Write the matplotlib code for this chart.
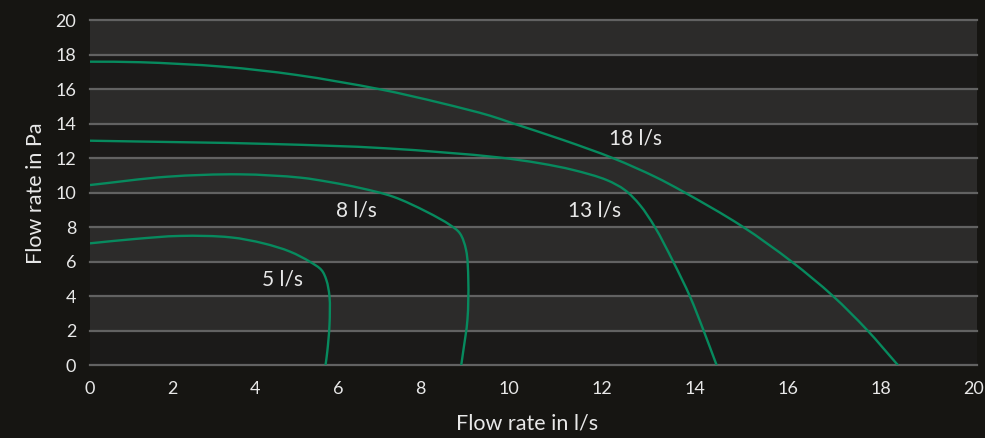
import matplotlib
matplotlib.use('Agg')
import numpy as np
import matplotlib.pyplot as plt
from matplotlib.path import Path
from matplotlib.patches import PathPatch
from matplotlib.transforms import ScaledTranslation

plt.rcParams['font.family'] = ['Lato', 'DejaVu Sans']

# ---------------- data ----------------
x_ticks = [0, 2, 4, 6, 8, 10, 12, 14, 16, 18, 20]
y_ticks = [0, 2, 4, 6, 8, 10, 12, 14, 16, 18, 20]

curve_names = ['5 l/s', '8 l/s', '13 l/s', '18 l/s']

c5_x = [0, 1.0, 2.03, 3.16, 3.91, 4.51, 4.96, 5.22, 5.33, 5.40, 5.40, 5.35, 5.31]
c5_y = [7.07, 7.32, 7.5, 7.42, 7.07, 6.59, 6.0, 5.52, 4.94, 3.98, 2.34, 0.79, 0]

c8_x = [0, 1.73, 3.38, 4.74, 5.41, 6.09, 6.84, 7.59, 8.12, 8.34, 8.48, 8.53, 8.51, 8.42, 8.37]
c8_y = [10.45, 10.93, 11.07, 10.88, 10.62, 10.28, 9.77, 8.9, 8.13, 7.65, 6.68, 4.94, 2.63, 0.89, 0]

c13_x = [0, 4.08, 6.67, 9.18, 10.15, 10.9, 11.65, 12.06, 12.4, 12.74, 13.15, 13.53, 13.83, 14.13]
c13_y = [13.02, 12.83, 12.58, 12.06, 11.71, 11.32, 10.74, 10.16, 9.29, 8.0, 6.01, 3.98, 2.05, 0]

c18_x = [0, 1.13, 3.0, 4.66, 6.54, 7.89, 9.02, 9.53, 10.67, 11.8, 12.74, 13.38, 14.69,
         15.82, 16.75, 17.52, 18.22]
c18_y = [17.6, 17.57, 17.31, 16.83, 16.0, 15.22, 14.47, 14.03, 13.06, 12.0, 10.93, 10.06, 8.08,
         6.01, 4.02, 2.05, 0]

label_x = [4.34, 6.0, 11.38, 12.31]
label_y = [4.99, 8.97, 8.96, 13.12]

x_title = 'Flow rate in l/s'
y_title = 'Flow rate in Pa'

# ---------------- style ----------------
BG = '#161512'
AX_BG = '#1b1a19'
BAND = '#2c2b2a'
GRID = '#626262'
GREEN = '#078a5e'
TXT = '#e8e8e8'


def smooth_path(xs, ys, sx=44.35, sy=17.25, alpha=0.5):
    """Smooth line through the read points: centripetal Catmull-Rom drawn as cubic Beziers."""
    pts = np.column_stack([xs, ys]).astype(float)
    n = len(pts)
    ext = np.vstack([2 * pts[0] - pts[1], pts, 2 * pts[-1] - pts[-2]])
    scale = np.array([sx, sy])

    def dt(a, b):
        return max(np.linalg.norm((b - a) * scale) ** alpha, 1e-6)

    verts = [pts[0]]
    codes = [Path.MOVETO]
    for i in range(n - 1):
        p0, p1, p2, p3 = ext[i], ext[i + 1], ext[i + 2], ext[i + 3]
        d0, d1, d2 = dt(p0, p1), dt(p1, p2), dt(p2, p3)
        m1 = d1 * ((p1 - p0) / d0 - (p2 - p0) / (d0 + d1) + (p2 - p1) / d1)
        m2 = d1 * ((p2 - p1) / d1 - (p3 - p1) / (d1 + d2) + (p3 - p2) / d2)
        verts += [p1 + m1 / 3.0, p2 - m2 / 3.0, p2]
        codes += [Path.CURVE4] * 3
    return Path(verts, codes)


fig = plt.figure(figsize=(9.85, 4.38), dpi=100, facecolor=BG)
ax = fig.add_axes([90 / 985, (438 - 365.3) / 438, 887 / 985, 345 / 438])
ax.set_facecolor(AX_BG)
ax.set_xlim(0, 20)
ax.set_ylim(0, 20)

for i in range(1, len(y_ticks) - 1, 2):
    ax.axhspan(y_ticks[i], y_ticks[i + 1], color=BAND, lw=0, zorder=0.1)

ax.set_axisbelow(True)
ax.set_yticks(y_ticks)
ax.set_xticks(x_ticks)
ax.set_xticklabels([str(t) for t in x_ticks])
ax.set_yticklabels([str(t) for t in y_ticks])
ax.grid(axis='y', color=GRID, lw=1.6)
ax.grid(axis='x', visible=False)
for gl in ax.get_ygridlines():
    gl.set_clip_on(False)

for s in ax.spines.values():
    s.set_visible(False)

ax.tick_params(axis='both', length=0, labelsize=13, labelcolor=TXT)
ax.tick_params(axis='x', pad=11)
ax.tick_params(axis='y', pad=10)

for xs, ys in [(c5_x, c5_y), (c8_x, c8_y), (c13_x, c13_y), (c18_x, c18_y)]:
    ax.add_patch(PathPatch(smooth_path(xs, ys), fill=False, edgecolor=GREEN,
                           lw=1.7, capstyle='butt', joinstyle='round', zorder=3))

for name, lx, ly in zip(curve_names, label_x, label_y):
    ax.text(lx, ly, name, color=TXT, fontsize=15, ha='center', va='center', zorder=4)

ax.set_xlabel(x_title, color=TXT, fontsize=15.5)
ax.set_ylabel(y_title, color=TXT, fontsize=15.5)
ax.xaxis.set_label_coords((527 - 90) / 887, -0.14)
ax.yaxis.set_label_coords((46 - 90) / 887, 0.5)

# x tick labels are laid out evenly spaced (equal gaps) across the bottom strip
fig.canvas.draw()
r = fig.canvas.get_renderer()
labs = ax.get_xticklabels()
widths = [lab.get_window_extent(r).width for lab in labs]
tick_px = [ax.transData.transform((t, 0))[0] for t in x_ticks]
L = tick_px[0] - widths[0] / 2
R = fig.bbox.width - 1
gap = (R - L - sum(widths)) / (len(labs) - 1)
pos = L
for lab, w, tp in zip(labs, widths, tick_px):
    centre = pos + w / 2
    dx = centre - tp
    lab.set_transform(lab.get_transform() + ScaledTranslation(dx / fig.dpi, 0, fig.dpi_scale_trans))
    pos += w + gap

fig.savefig('out.png', dpi=100, facecolor=BG)
